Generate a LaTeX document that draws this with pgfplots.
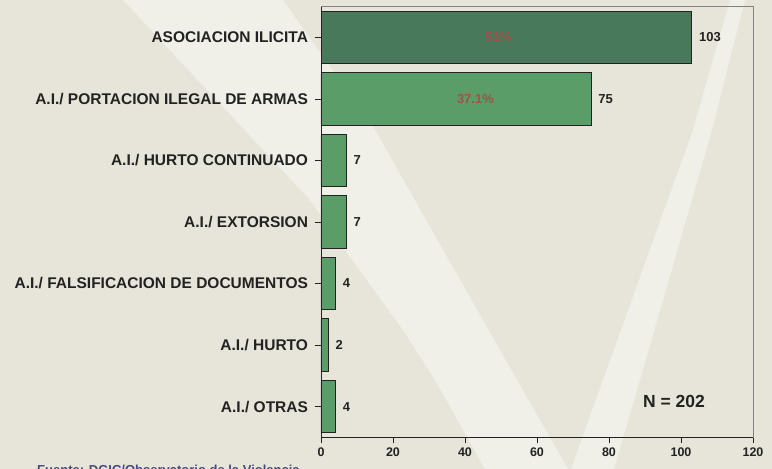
\documentclass[border=0pt]{standalone}
\usepackage{pgfplots}
\pgfplotsset{compat=1.18}
\usepackage{fontspec}
\setmainfont{Liberation Sans}
\definecolor{bgc}{RGB}{231,229,217}
\definecolor{lightc}{RGB}{240,240,232}
\definecolor{darkgreen}{RGB}{71,121,90}
\definecolor{midgreen}{RGB}{90,157,104}
\definecolor{pctc}{RGB}{160,82,74}
\definecolor{txt}{RGB}{34,34,34}
\definecolor{srcc}{RGB}{72,72,125}
\definecolor{framec}{RGB}{130,130,130}
\begin{document}
\begin{tikzpicture}[x=1pt,y=1pt]
\useasboundingbox (0,0) rectangle (772,469);
\clip (0,0) rectangle (772,469);
\fill[bgc] (0,0) rectangle (772,469);
% decorative light strokes of the background
\fill[lightc] (123,469) -- (283,469) -- (375,339) -- (517,89) -- (568,0) -- (485,0) -- (435,89) -- (403,139) -- (345,219) -- (310,269) -- cycle;
\fill[lightc] (730,469) -- (745,469) -- (712,339) -- (640,89) -- (614,0) -- (571,0) -- (603,89) -- (693,339) -- cycle;
\begin{axis}[
  at={(321pt,31.7pt)}, anchor=south west,
  width=432pt, height=430.6pt, scale only axis,
  xbar, bar shift=0pt, bar width=0.854,
  xmin=0, xmax=120, ymin=-0.5, ymax=6.5,
  xtick={0,20,40,60,80,100,120},
  ytick={0,1,2,3,4,5,6},
  yticklabels={A.I./ OTRAS, A.I./ HURTO, A.I./ FALSIFICACION DE DOCUMENTOS, A.I./ EXTORSION, A.I./ HURTO CONTINUADO, A.I./ PORTACION ILEGAL DE ARMAS, ASOCIACION ILICITA},
  xtick pos=bottom, ytick pos=left,
  tick align=outside, major tick length=6pt,
  tick style={txt, line width=0.8pt},
  axis line style={framec, line width=0.8pt},
  /pgf/number format/assume math mode=true,
  xticklabel style={font=\bfseries\fontsize{12.5}{14}\selectfont, text=txt, yshift=-1pt},
  yticklabel style={font=\bfseries\fontsize{15.5}{17}\selectfont, text=txt, xshift=-3.5pt},
  nodes near coords,
  nodes near coords align=horizontal,
  every node near coord/.append style={font=\bfseries\fontsize{13}{14}\selectfont, text=txt, inner sep=0pt, xshift=7pt},
  clip=false,
]
\addplot[fill=darkgreen, draw=txt, line width=0.8pt] coordinates {(103,6)};
\addplot[fill=midgreen, draw=txt, line width=0.8pt] coordinates {(75,5) (7,4) (7,3) (4,2) (2,1) (4,0)};
\node[text=pctc, font=\bfseries\fontsize{13}{14}\selectfont] at (axis cs:49.3,6) {51\%};
\node[text=pctc, font=\bfseries\fontsize{13}{14}\selectfont] at (axis cs:42.9,5) {37.1\%};
\draw[txt, line width=0.8pt] (rel axis cs:0,0) -- (rel axis cs:0,1);
\draw[txt, line width=0.8pt] (rel axis cs:0,0) -- (rel axis cs:1,0);
\end{axis}
\node[font=\bfseries\fontsize{17.5}{19}\selectfont, text=txt] at (674,68) {N = 202};
\node[font=\bfseries\fontsize{13}{14}\selectfont, text=srcc, anchor=base west, inner sep=0pt] at (37,-5.4) {Fuente: DGIC/Observatorio de la Violencia};
\end{tikzpicture}
\end{document}
